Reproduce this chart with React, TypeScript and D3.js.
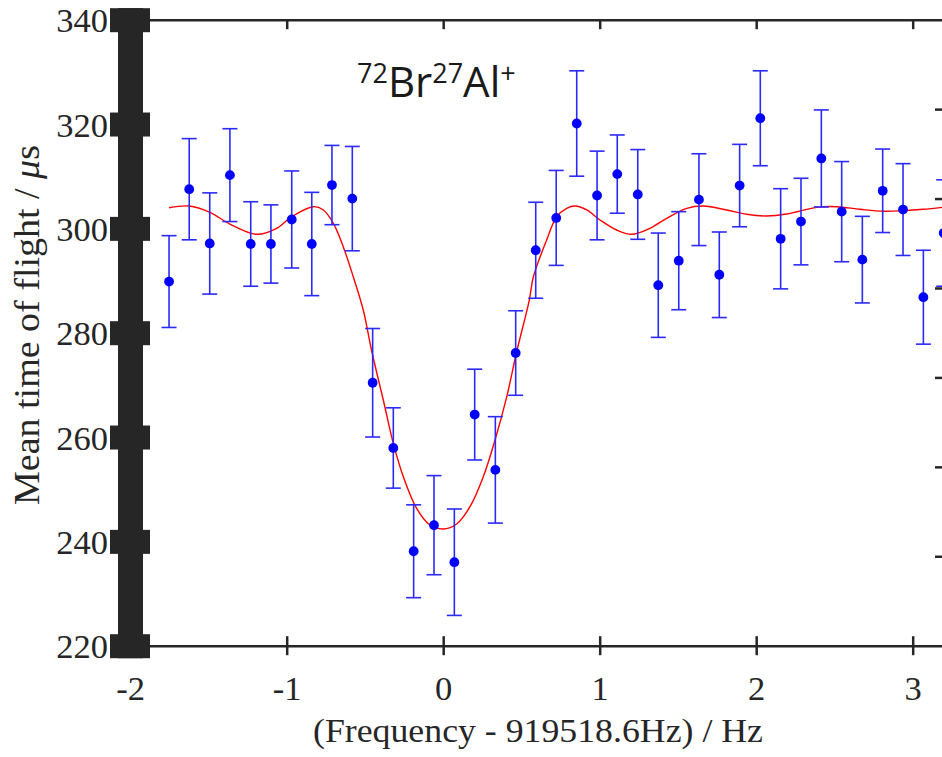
import React from "react";
import * as d3 from "d3";

const freq = [
  -1.755, -1.626, -1.495, -1.366, -1.233, -1.104, -0.971, -0.843, -0.714, -0.584,
  -0.454, -0.322, -0.192, -0.062, 0.068, 0.198, 0.33, 0.46, 0.588, 0.719,
  0.85, 0.98, 1.109, 1.24, 1.371, 1.502, 1.631, 1.761, 1.891, 2.023,
  2.153, 2.283, 2.413, 2.543, 2.675, 2.805, 2.935, 3.065, 3.195,
];
const tof = [
  289.9, 307.6, 297.2, 310.3, 297.1, 297.1, 301.8, 297.1, 308.4, 305.8,
  270.5, 258.0, 238.2, 243.2, 236.1, 264.4, 253.8, 276.2, 295.9, 302.1,
  320.2, 306.4, 310.5, 306.6, 289.2, 293.9, 305.6, 291.2, 308.3, 321.2,
  298.1, 301.4, 313.5, 303.3, 294.1, 307.3, 303.7, 286.9, 299.2,
];
const tofErr = [
  8.8, 9.7, 9.7, 8.9, 8.1, 7.5, 9.3, 9.9, 7.6, 10.0,
  10.4, 7.7, 8.9, 9.5, 10.2, 8.7, 10.2, 8.1, 9.2, 9.1,
  10.1, 8.5, 7.5, 8.6, 10.0, 9.4, 8.8, 8.2, 7.9, 9.1,
  9.6, 8.3, 9.3, 9.6, 8.3, 8.0, 8.8, 9.0, 10.2,
];

const fitFreq = [
  -1.755, -1.626, -1.494, -1.366, -1.195, -1.067, -0.971, -0.833, -0.769, -0.705,
  -0.642, -0.578, -0.514, -0.46, -0.386, -0.322, -0.258, -0.173, -0.088, -0.003,
  0.083, 0.168, 0.253, 0.328, 0.403, 0.466, 0.547, 0.573, 0.658, 0.722,
  0.786, 0.839, 0.914, 0.999, 1.105, 1.201, 1.318, 1.425, 1.553, 1.659,
  1.808, 1.936, 2.064, 2.192, 2.383, 2.511, 2.66, 2.809, 2.937, 3.065, 3.184,
];
const fitTof = [
  304.06, 304.38, 303.18, 300.93, 298.96, 300.11, 302.33, 304.25, 303.62, 301.07,
  296.58, 290.83, 284.45, 276.59, 267.19, 258.89, 252.49, 246.43, 243.23, 242.47,
  243.43, 246.74, 252.49, 259.53, 267.83, 276.4, 286.36, 290.83, 297.87, 302.33,
  303.94, 304.38, 303.62, 301.7, 299.78, 298.96, 300.11, 302.03, 303.94, 304.38,
  303.62, 302.79, 302.47, 302.85, 304.13, 304.25, 303.75, 303.37, 303.48, 303.75, 304.13,
];

const xTicks = [-2, -1, 0, 1, 2, 3];
const yTicks = [220, 240, 260, 280, 300, 320, 340];
const rightTicks = [1, 2, 3, 4, 5, 6];

const W = 942;
const H = 757;
const AXC = "#262626";

export default function App() {
  const x = d3.scaleLinear().domain([-2, 3.2]).range([130.7, 130.7 + 5.2 * 156.5]);
  const y = d3.scaleLinear().domain([220, 340]).range([646.2, 20.2]);
  const yR = d3.scaleLinear().domain([0, 7]).range([646.2, 20.2]);

  const fitLine = d3
    .line<number>()
    .x((_, i) => x(fitFreq[i]))
    .y((d) => y(d))
    .curve(d3.curveCatmullRom.alpha(0.5));

  const x0 = x(-2);
  const xEnd = x(3.2);
  const yTop = y(340);
  const yBot = y(220);
  const serif = "'Liberation Serif', 'Times New Roman', serif";

  return (
    <svg
      width={W}
      height={H}
      style={{ position: "absolute", left: 0, top: 0, background: "#fff" }}
      xmlns="http://www.w3.org/2000/svg"
    >
      <rect x={0} y={0} width={W} height={H} fill="#fff" />

      {/* top and bottom axis lines */}
      <line x1={x0} x2={xEnd} y1={yTop} y2={yTop} stroke={AXC} strokeWidth={2.5} />
      <line x1={x0} x2={xEnd} y1={yBot} y2={yBot} stroke={AXC} strokeWidth={2.5} />
      {xTicks.map((t) => (
        <g key={"xt" + t}>
          <line x1={x(t)} x2={x(t)} y1={yTop} y2={yTop + 9} stroke={AXC} strokeWidth={2.5} />
          <line x1={x(t)} x2={x(t)} y1={yBot - 10} y2={yBot + 9} stroke={AXC} strokeWidth={2.5} />
          <text
            x={x(t)}
            y={700}
            textAnchor="middle"
            fontFamily={serif}
            fontSize={34.5}
            fill={AXC}
          >
            {t}
          </text>
        </g>
      ))}

      {/* right axis ticks (unlabelled) */}
      {rightTicks.map((t) => (
        <line
          key={"rt" + t}
          x1={xEnd - 9.5}
          x2={xEnd}
          y1={yR(t)}
          y2={yR(t)}
          stroke={AXC}
          strokeWidth={2.5}
        />
      ))}

      {/* thick left axis */}
      <rect x={118} y={yTop - 12} width={25} height={yBot - yTop + 24} fill={AXC} />
      {yTicks.map((t) => (
        <g key={"yt" + t}>
          <rect x={110} y={y(t) - 12} width={40} height={24} fill={AXC} />
          <text
            x={108}
            y={y(t) + 12}
            textAnchor="end"
            fontFamily={serif}
            fontSize={34.5}
            fill={AXC}
          >
            {t}
          </text>
        </g>
      ))}

      {/* fit curve */}
      <path d={fitLine(fitTof) || ""} fill="none" stroke="#ff0000" strokeWidth={1.4} />

      {/* error bars and points */}
      {freq.map((f, i) => {
        const cx = x(f);
        const yHi = y(tof[i] + tofErr[i]);
        const yLo = y(tof[i] - tofErr[i]);
        return (
          <g key={"p" + i}>
            <line x1={cx} x2={cx} y1={yHi} y2={yLo} stroke="#2a2aff" strokeWidth={1.6} />
            <line x1={cx - 7.5} x2={cx + 7.5} y1={yHi} y2={yHi} stroke="#2a2aff" strokeWidth={1.6} />
            <line x1={cx - 7.5} x2={cx + 7.5} y1={yLo} y2={yLo} stroke="#2a2aff" strokeWidth={1.6} />
            <circle cx={cx} cy={y(tof[i])} r={4.9} fill="#0000ff" />
          </g>
        );
      })}

      {/* title */}
      <text x={357} y={96.7} fontFamily="'Open Sans', sans-serif" fontSize={42} fill="#1a1a1a">
        <tspan fontSize={27} dy={-14}>72</tspan>
        <tspan dy={14}>Br</tspan>
        <tspan fontSize={27} dy={-14}>27</tspan>
        <tspan dy={14}>Al</tspan>
        <tspan fontSize={27} dy={-14}>+</tspan>
      </text>

      {/* axis labels */}
      <text
        x={313}
        y={741.7}
        fontFamily={serif}
        fontSize={34}
        fill={AXC}
        textLength={450}
        lengthAdjust="spacingAndGlyphs"
      >
        (Frequency - 919518.6Hz) / Hz
      </text>
      <text
        transform={`translate(39.3, 505) rotate(-90)`}
        fontFamily={serif}
        fontSize={35}
        fill={AXC}
        textLength={360}
        lengthAdjust="spacingAndGlyphs"
      >
        Mean time of flight / <tspan fontStyle="italic">μ</tspan>s
      </text>
    </svg>
  );
}
